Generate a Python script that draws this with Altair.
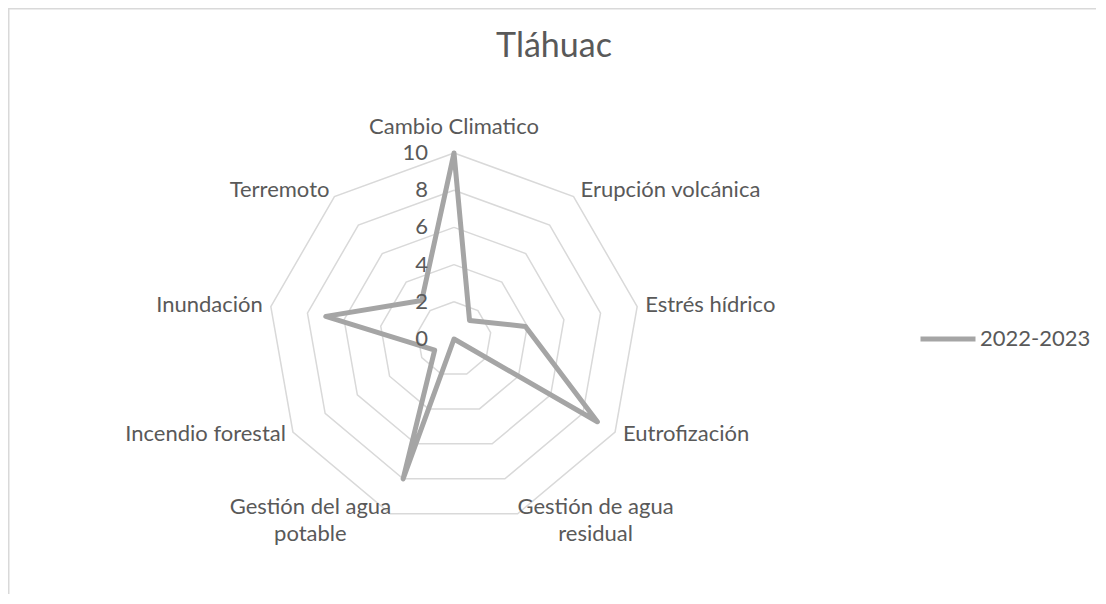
import math
import altair as alt
import pandas as pd

# ---------------- data ----------------
title_text = "Tláhuac"
categories = [
    "Cambio Climatico",
    "Erupción volcánica",
    "Estrés hídrico",
    "Eutrofización",
    "Gestión de agua residual",
    "Gestión del agua potable",
    "Incendio forestal",
    "Inundación",
    "Terremoto",
]
series_name = "2022-2023"
values = [10, 1.3, 3.9, 8.9, 0, 8, 1.2, 7, 2.7]
ticks = [0, 2, 4, 6, 8, 10]

# ---------------- style / layout ----------------
W, H = 1088, 586           # plot area (whole chart, padding 0)
CX, CY = 446, 331          # radar centre in chart pixels
PX = 18.6                  # pixels per value unit
FONT = "Lato"
TEXT_COLOR = "#595959"
GRID_COLOR = "#d9d9d9"
LINE_COLOR = "#a5a5a5"
LABEL_SIZE = 22
TITLE_SIZE = 34

# label placement relative to the outer vertex (pixels, right / down) and alignment
label_offsets = [(0, -19), (7, 0), (8, 5), (8, 9), (78, 0), (-80, 0), (-7, 9), (-8, 5), (-5, 0)]
label_align = ["center", "left", "left", "left", "center", "center", "right", "right", "right"]
label_breaks = {
    "Gestión de agua residual": "Gestión de agua\nresidual",
    "Gestión del agua potable": "Gestión del agua\npotable",
}

n = len(categories)
ang = [2 * math.pi * k / n for k in range(n)]

xs = alt.Scale(domain=[-CX / PX, (W - CX) / PX], nice=False, zero=False)
ys = alt.Scale(domain=[-(H - CY) / PX, CY / PX], nice=False, zero=False)
X = lambda: alt.X("x:Q", scale=xs, axis=None)
Y = lambda: alt.Y("y:Q", scale=ys, axis=None)

# grid rings
ring_rows = []
for r in ticks[1:]:
    for k in range(n + 1):
        a = ang[k % n]
        ring_rows.append({"ring": r, "order": k, "x": r * math.sin(a), "y": r * math.cos(a)})
rings_df = pd.DataFrame(ring_rows)

# series polygon
ser_rows = []
for k in range(n + 1):
    a = ang[k % n]
    v = values[k % n]
    ser_rows.append({"series": series_name, "order": k, "cat": categories[k % n],
                     "value": v, "x": v * math.sin(a), "y": v * math.cos(a)})
ser_df = pd.DataFrame(ser_rows)

# category labels
lab_rows = []
for k, c in enumerate(categories):
    a = ang[k]
    dx, dy = label_offsets[k]
    lab_rows.append({"label": label_breaks.get(c, c), "align": label_align[k],
                     "x": ticks[-1] * math.sin(a) + dx / PX,
                     "y": ticks[-1] * math.cos(a) - dy / PX})
lab_df = pd.DataFrame(lab_rows)

# tick labels
tick_df = pd.DataFrame({"t": [str(t) for t in ticks], "x": [-26 / PX] * len(ticks), "y": ticks})

rings = alt.Chart(rings_df).mark_line(color=GRID_COLOR, strokeWidth=1.5).encode(
    x=X(), y=Y(), order="order:Q", detail="ring:N"
)

line = alt.Chart(ser_df).mark_line(strokeWidth=5, strokeJoin="round", strokeCap="round").encode(
    x=X(), y=Y(), order="order:Q",
    color=alt.Color(
        "series:N",
        scale=alt.Scale(domain=[series_name], range=[LINE_COLOR]),
        legend=alt.Legend(
            title=None, orient="none", legendX=910, legendY=301, padding=0,
            symbolType="stroke", symbolSize=3025, symbolStrokeWidth=5,
            labelFont=FONT, labelFontSize=LABEL_SIZE, labelColor=TEXT_COLOR, labelOffset=2,
        ),
    ),
    tooltip=["cat:N", "value:Q"],
)

label_layers = []
for al in ["left", "center", "right"]:
    label_layers.append(
        alt.Chart(lab_df).transform_filter(alt.datum.align == al).mark_text(
            align=al, baseline="alphabetic", font=FONT, fontSize=LABEL_SIZE,
            color=TEXT_COLOR, lineBreak="\n", lineHeight=27,
        ).encode(x=X(), y=Y(), text="label:N")
    )

tick_text = alt.Chart(tick_df).mark_text(
    align="right", baseline="middle", font=FONT, fontSize=LABEL_SIZE, color=TEXT_COLOR
).encode(x=X(), y=Y(), text="t:N")

one = pd.DataFrame({"title": [title_text]})
title = alt.Chart(one).mark_text(
    align="center", baseline="alphabetic", font=FONT, fontSize=TITLE_SIZE, color=TEXT_COLOR
).encode(x=alt.value(546), y=alt.value(49), text="title:N")

border_top = alt.Chart(one).mark_rule(color=GRID_COLOR, strokeWidth=1.5).encode(
    x=alt.value(0), x2=alt.value(W), y=alt.value(0.75)
)
border_left = alt.Chart(one).mark_rule(color=GRID_COLOR, strokeWidth=1.5).encode(
    x=alt.value(0.75), y=alt.value(0), y2=alt.value(H)
)

chart = alt.layer(
    border_top, border_left, rings, line, *label_layers, tick_text, title
).properties(
    width=W, height=H, padding=0, autosize=alt.AutoSizeParams(type="none"), background="white"
).configure_view(stroke=None)

chart.save("out.html", embed_options={"renderer": "svg", "actions": False})
